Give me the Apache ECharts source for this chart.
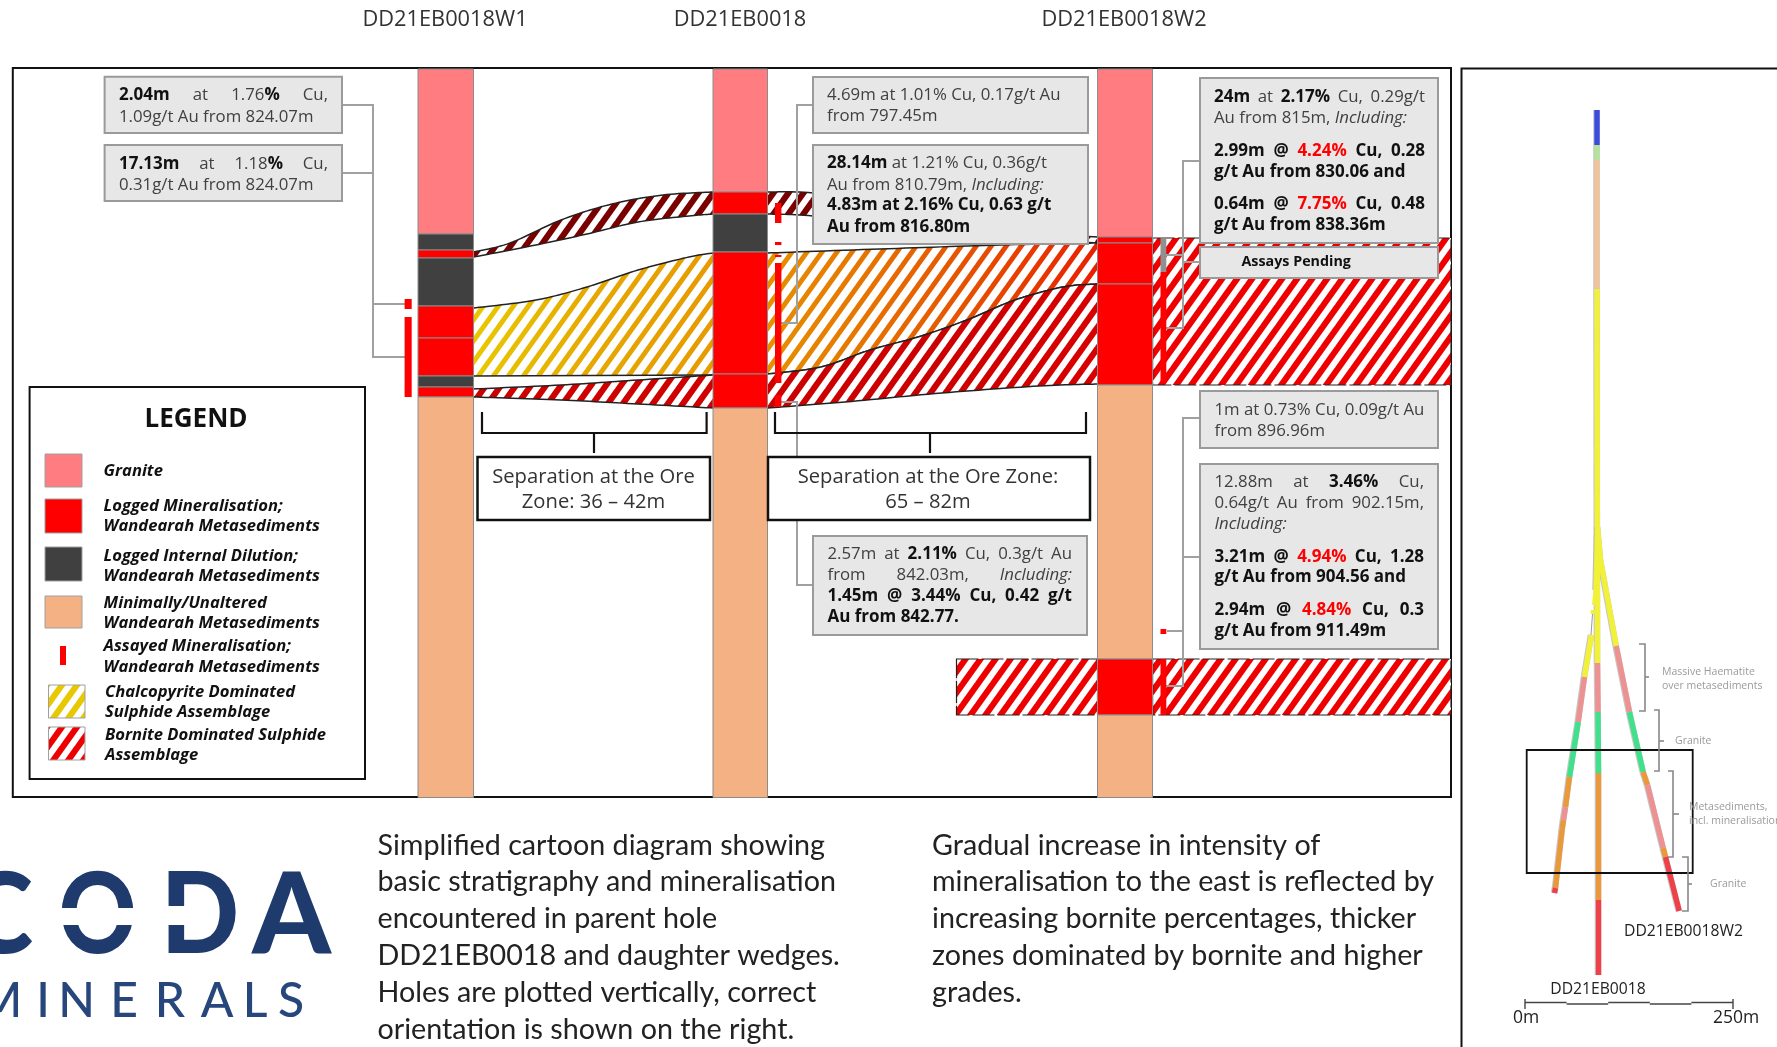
<!DOCTYPE html>
<html><head><meta charset="utf-8">
<style>html,body{margin:0;padding:0;background:#fff}#c{width:1777px;height:1047px}</style>
<script src="https://cdn.jsdelivr.net/npm/echarts@6/dist/echarts.min.js"></script>
</head><body><div id="c"></div>
<script>
// ---------- data ----------
const holeNames = ['DD21EB0018W1', 'DD21EB0018', 'DD21EB0018W2'];
const GR='#ff7c80', MI='#ff0000', DI='#404040', UN='#f4b183';
const holeW1 = [[69,234,GR],[234,250,DI],[250,258,MI],[258,306,DI],[306,338,MI],[338,376,MI],[376,387,DI],[387,397,MI],[397,797.5,UN]];
const hole00 = [[69,192,GR],[192,214,MI],[214,252,DI],[252,374,MI],[374,408,MI],[408,797.5,UN]];
const holeW2 = [[69,237,GR],[237,243,MI],[243,284,MI],[284,385,MI],[385,659,UN],[659,715,MI],[715,797.5,UN]];
const assayW1 = [[299,309],[317,397]];
const assay00 = [[203,223],[242,245],[255,257],[263,383],[395,407]];
const assayW2 = [[272,383],[629,634],[659,715]];
const pendingW2 = [[238,272]];

const bandAUpL=[[473.5,252],[510,243],[561,220],[612,204],[663,195],[713,192]];
const bandALoL=[[473.5,257],[536,245],[587,234],[638,222],[689,216],[713,214]];
const bandAUpR=[[767.5,192],[813,193],[900,205],[1000,230],[1097.5,237]];
const bandALoR=[[767.5,214],[813,216],[900,226],[1000,238],[1097.5,243]];
const bandBUpL=[[473.5,308],[536,300],[587,287],[638,270],[689,257],[713,253]];
const bandBLoL=[[473.5,376],[713,375]];
const bandCUpL=[[473.5,389],[561,385],[638,380],[713,375]];
const bandCLoL=[[473.5,397],[561,400],[638,404],[713,408]];
const bandBUpR=[[767.5,253],[880,249],[1000,245],[1097.5,243]];
const bandMidR=[[767.5,374],[821,367],[870,350],[918,337],[967,320],[1015,300],[1063,287],[1097.5,284]];
const bandCLoR=[[767.5,408],[845,402],[942,393],[1039,386],[1097.5,384]];
const bandEast=[[1152.6,238],[1451,238],[1451,385],[1152.6,385]];
const bandLowW=[[956.5,659],[1097.5,659],[1097.5,715],[956.5,715]];
const bandLowE=[[1152.6,659],[1451,659],[1451,715],[1152.6,715]];

const interceptW1a=['**2.04m** at 1.76**%** Cu,','1.09g/t Au from 824.07m'];
const interceptW1b=['**17.13m** at 1.18**%** Cu,','0.31g/t Au from 824.07m'];
const intercept00a=['4.69m at 1.01% Cu, 0.17g/t Au','from 797.45m'];
const intercept00b=['**28.14m** at 1.21% Cu, 0.36g/t','Au from 810.79m, __Including:__','**4.83m at 2.16% Cu, 0.63 g/t**','**Au from 816.80m**'];
const intercept00c=['2.57m at **2.11%** Cu, 0.3g/t Au','from 842.03m, __Including:__','**1.45m @ 3.44% Cu, 0.42 g/t**','**Au from 842.77.**'];
const interceptW2a=['**24m** at **2.17%** Cu, 0.29g/t','Au from 815m, __Including:__','**2.99m @ ~~4.24%~~ Cu, 0.28**','**g/t Au from 830.06 and**','**0.64m @ ~~7.75%~~ Cu, 0.48**','**g/t Au from 838.36m**'];
const interceptW2b=['**Assays Pending**'];
const interceptW2c=['1m at 0.73% Cu, 0.09g/t Au','from 896.96m'];
const interceptW2d=['12.88m at **3.46%** Cu,','0.64g/t Au from 902.15m,','__Including:__','**3.21m @ ~~4.94%~~ Cu, 1.28**','**g/t Au from 904.56 and**','**2.94m @ ~~4.84%~~ Cu, 0.3**','**g/t Au from 911.49m**'];
const separationA=['Separation at the Ore','Zone: 36 – 42m'];
const separationB=['Separation at the Ore Zone:','65 – 82m'];
const legendLabels=[['Granite'],['Logged Mineralisation;','Wandearah Metasediments'],['Logged Internal Dilution;','Wandearah Metasediments'],['Minimally/Unaltered','Wandearah Metasediments'],['Assayed Mineralisation;','Wandearah Metasediments'],['Chalcopyrite Dominated','Sulphide Assemblage'],['Bornite Dominated Sulphide','Assemblage']];
const captionLeft=['Simplified cartoon diagram showing','basic stratigraphy and mineralisation','encountered in parent hole','DD21EB0018 and daughter wedges.','Holes are plotted vertically, correct','orientation is shown on the right.'];
const captionRight=['Gradual increase in intensity of','mineralisation to the east is reflected by','increasing bornite percentages, thicker','zones dominated by bornite and higher','grades.'];
const sectionLabels=[['Massive Haematite','over metasediments'],['Granite'],['Metasediments,','incl. mineralisation'],['Granite']];

const C_BLUE='#3b4bdc',C_LG='#b5e39c',C_PE='#efc49c',C_YE='#f1f13a',C_PK='#ec9292',C_GN='#40e08c',C_OR='#e9983c',C_RD='#ee4048';
const traceCentre=[[[1596.5,110],[1596.5,145],C_BLUE],[[1596.5,145],[1596.5,160],C_LG],[[1596.5,160],[1596.5,289],C_PE],[[1596.5,289],[1597,663],C_YE],[[1597,663],[1597.5,712],C_PK],[[1597.5,712],[1598,773],C_GN],[[1598,773],[1598,900],C_OR],[[1598,900],[1598,975],C_RD]];
const traceEast=[[[1597,527],[1600,560],C_YE],[[1600,560],[1615.7,646],C_YE],[[1615.7,646],[1629,712],C_PK],[[1629,712],[1642.7,772],C_GN],[[1642.7,772],[1647,785],C_OR],[[1647,785],[1662.7,848],C_PK],[[1662.7,848],[1665,857],C_OR],[[1665,857],[1678.7,911],C_RD]];
const traceWest=[[[1597,535],[1595.5,590],C_YE],[[1591,635],[1584,677],C_YE],[[1584,677],[1577.7,722],C_PK],[[1577.7,722],[1569,777],C_GN],[[1569,777],[1565,807],C_OR],[[1565,807],[1563,820],C_PK],[[1563,820],[1561.7,829],C_OR],[[1561.7,829],[1555,888],C_OR],[[1555,888],[1554,893],C_RD]];
const traceWestGap=[[[1595.5,590],[1594,605]],[[1593,610],[1592.6,614]]];

// ---------- layout helpers ----------
const FONT="'Open Sans'";
const TXT='#404040', DARK='#111';
const measure=document.createElement('canvas').getContext('2d');
function fontOf(sz,b,i,fam){return (i?'italic ':'')+(b?'bold ':'')+sz+'px '+(fam||FONT);}
function parse(s){
  let b=0,i=0,r=0;const words=[[]];
  s.split(/(\*\*|__|~~)/).forEach(p=>{
    if(p==='**'){b=!b;return;} if(p==='__'){i=!i;return;} if(p==='~~'){r=!r;return;}
    if(!p)return;
    const parts=p.split(' ');
    parts.forEach((w,k)=>{ if(k>0)words.push([]); if(w)words[words.length-1].push({t:w,b,i,r}); });
  });
  return words.filter(w=>w.length);
}
function textEl(api,x,y,t,font,fill,align,extra){
  const p=api.coord([x,y]);
  return Object.assign({type:'text',x:p[0],y:p[1],style:{text:t,font,fill:fill,align:align||'left',verticalAlign:'middle'}},extra||{});
}
function lineEls(api,s,x,y,right,sz,bsz){
  const words=parse(s);const out=[];
  const fnt=r=>fontOf(r.b?bsz:sz,r.b,r.i);
  const widths=words.map(w=>w.reduce((a,r)=>{measure.font=fnt(r);return a+measure.measureText(r.t).width;},0));
  measure.font=fontOf(sz);const sp=measure.measureText(' ').width;
  const total=widths.reduce((a,b)=>a+b,0);
  const gap=(right&&words.length>1)?(right-x-total)/(words.length-1):sp;
  let cx=x;
  words.forEach(w=>{
    w.forEach(r=>{
      measure.font=fnt(r);
      out.push(textEl(api,cx,y,r.t,fnt(r),r.r?'#ff0000':(r.b?DARK:TXT)));
      cx+=measure.measureText(r.t).width;
    });
    cx+=gap;
  });
  return out;
}
function spline(pts,n){
  if(pts.length<3)return pts.slice();
  const o=[];const P=i=>pts[Math.max(0,Math.min(pts.length-1,i))];
  for(let i=0;i<pts.length-1;i++){
    const a=P(i-1),b=P(i),c=P(i+1),d=P(i+2);
    for(let k=0;k<n;k++){const t=k/n,t2=t*t,t3=t2*t;
      o.push([0,1].map(j=>0.5*(2*b[j]+(c[j]-a[j])*t+(2*a[j]-5*b[j]+4*c[j]-d[j])*t2+(3*b[j]-a[j]-3*c[j]+d[j])*t3)));}
  }
  o.push(pts[pts.length-1]);return o;
}
function stripeTile(frac){
  const tile=document.createElement('canvas');tile.width=15;tile.height=21;
  const g=tile.getContext('2d');g.fillStyle='#fff';const w=15*frac;
  for(const o of [-15,0,15]){g.beginPath();g.moveTo(o,21);g.lineTo(o+w,21);g.lineTo(o+w+15,0);g.lineTo(o+15,0);g.closePath();g.fill();}
  return {image:tile,repeat:'repeat'};
}
const STRIPES=stripeTile(0.5), STRIPES_THIN=stripeTile(0.6);
const grad=(...c)=>new echarts.graphic.LinearGradient(0,0,1,0,c.map((k,i)=>({offset:i/(c.length-1),color:k})));

function poly(api,pts,style){return {type:'polygon',shape:{points:pts.map(p=>api.coord(p))},style};}
function pline(api,pts,style){return {type:'polyline',shape:{points:pts.map(p=>api.coord(p))},style:Object.assign({fill:null},style)};}
function rect(api,x0,y0,x1,y1,style){const a=api.coord([x0,y0]),b=api.coord([x1,y1]);return {type:'rect',shape:{x:a[0],y:a[1],width:b[0]-a[0],height:b[1]-a[1]},style};}
function layer(name,items,fn){
  return {type:'custom',name,coordinateSystem:'cartesian2d',silent:true,clip:false,animation:false,
    encode:{x:0,y:1},data:items.map((d,i)=>[0,0,i]),
    renderItem:(p,api)=>fn(items[p.dataIndex],api)};
}
const band=(up,lo,color,tile)=>({up,lo,color,tile});
const bands=[
 band(bandAUpL,bandALoL,'#7a0000',STRIPES),
 band(bandAUpR,bandALoR,'#7a0000',STRIPES),
 band(bandBUpL,bandBLoL,grad('#e8c800','#e6a800','#e69a00'),STRIPES_THIN),
 band(bandCUpL,bandCLoL,grad('#cc0000','#d00000'),STRIPES),
 band(bandBUpR,bandMidR,grad('#e69000','#e67000','#e64a00','#e82000'),STRIPES_THIN),
 band(bandMidR,bandCLoR,grad('#cc0000','#cc0000','#d80000'),STRIPES),
];
const flatBands=[bandEast,bandLowW,bandLowE];

const boxes=[
 [104.6,76.7,342,133],[104.6,145,342,201],[813,77,1088,133],[813,145,1088,244],[813,536,1087,635],
 [1200,78,1438,243],[1200,247,1438,278],[1200,391,1438,448],[1200,464,1438,649]];
const boxText=[
 [interceptW1a,119,[95,117],328,[1,0]],
 [interceptW1b,119,[164,185],328,[1,0]],
 [intercept00a,827,[95,116],0,[0,0]],
 [intercept00b,827,[163.5,185,205.5,227],0,[0,0,0,0]],
 [intercept00c,827.5,[554,575,596,617],1072,[1,1,1,0]],
 [interceptW2a,1214,[97.5,118.5,151.5,172.5,204.5,225.5],1425,[1,0,1,0,1,0]],
 [interceptW2c,1214.5,[410.5,431.5],0,[0,0]],
 [interceptW2d,1214.5,[482.5,503.5,524.5,557,577.5,610,631],1424,[1,1,0,1,0,1,0]],
];
const connectors=[
 [[342,105],[373,105],[373,357],[405,357]],
 [[342,173],[373,173],[373,304],[405,304]],
 [[813,105],[797,105],[797,323],[781,323]],
 [[781,402],[797,402],[797,585],[813,585]],
 [[1200,161],[1183,161],[1183,328],[1166,328]],
 [[1200,262],[1183,262]],[[1183,255],[1166,255]],
 [[1200,418],[1183,418],[1183,686],[1166,686]],
 [[1200,557],[1183,557]],[[1183,631],[1167,631]],
];
const brackets=[
 [[482,412],[482,433],[706.6,433],[706.6,412]],[[594,433],[594,453]],
 [[775,412],[775,433],[1086,433],[1086,412]],[[930,433],[930,453]],
];
const miniBrackets=[
 [1639,1645,644,711,1649,677],[1654,1659,710,771,1664,741],[1668,1673,771,857,1679,814],[1682,1688,857,911,1692,884]];
const logoBig=[['C',33,'right',0.92],['O',97.5,'center',0.86],['D',200,'center',0.92],['A',291.5,'center',1]];
const logoSmall=[['M',0],['I',43],['N',76.5],['E',124],['R',170],['A',217],['L',255],['S',291]];
const logoCuts=[[0,908,34,925],[58,908,137,925],[160,906,190,925]];

const swatches=[[45,454,82,487,GR],[45,499,82,533,MI],[45,547,82,581,DI],[45,596,82,628,UN]];

const series=[
 layer('frames',[0,1,2],(k,api)=>{
   if(k===0)return rect(api,12.8,68,1451,797,{fill:'#fff',stroke:'#111',lineWidth:2});
   if(k===1)return pline(api,[[1461.5,1047],[1461.5,68.5],[1777,68.5]],{stroke:'#111',lineWidth:2});
   return rect(api,29.6,387,365,779,{fill:'#fff',stroke:'#111',lineWidth:2});
 }),
 layer('bands',bands,(b,api)=>{
   const u=spline(b.up,14),l=spline(b.lo,14);const all=u.concat(l.slice().reverse());
   return {type:'group',children:[
     poly(api,all,{fill:b.color}),poly(api,all,{fill:b.tile}),
     pline(api,u,{stroke:'#222',lineWidth:1.5}),pline(api,l,{stroke:'#222',lineWidth:1.5})]};
 }),
 layer('flatBands',flatBands,(b,api)=>({type:'group',children:[
   poly(api,b,{fill:'#ee0000'}),poly(api,b,{fill:STRIPES}),
   poly(api,b,{fill:null,stroke:'#222',lineWidth:1.2,lineDash:[22,3]})]})),
 layer('connectors',connectors,(c,api)=>pline(api,c,{stroke:'#a0a0a0',lineWidth:2})),
 layer('holes',[[holeW1,418,473.5],[hole00,713,767.5],[holeW2,1097.5,1152.5]],(h,api)=>({type:'group',children:
   h[0].map(s=>rect(api,h[1],s[0],h[2],s[1],{fill:s[2],stroke:'#8c8c8c',lineWidth:1}))})),
 layer('assays',[[assayW1,404.6,411.7],[assay00,775,781.4],[assayW2,1160.5,1166.3]],(a,api)=>({type:'group',children:
   a[0].map(s=>rect(api,a[1],s[0],a[2],s[1],{fill:'#ff0000'}))})),
 layer('pending',pendingW2,(s,api)=>rect(api,1160.5,s[0],1166.3,s[1],{fill:'#909090'})),
 layer('boxes',boxes,(b,api)=>rect(api,b[0],b[1],b[2],b[3],{fill:'#e7e7e7',stroke:'#9a9a9a',lineWidth:2})),
 layer('boxText',boxText,(b,api)=>({type:'group',children:[].concat(...b[0].map((s,i)=>lineEls(api,s,b[1],b[2][i],b[4][i]?b[3]:0,16.8,17)))})),
 layer('pendingText',[interceptW2b[0]],(s,api)=>({type:'group',children:lineEls(api,s,1241.5,262,0,14.3,14.3)})),
 layer('brackets',brackets,(b,api)=>pline(api,b,{stroke:'#111',lineWidth:2.2})),
 layer('sepBoxes',[[477.5,457,710,520],[768,457,1090,520]],(b,api)=>rect(api,b[0],b[1],b[2],b[3],{fill:'#fff',stroke:'#111',lineWidth:2.5})),
 layer('sepText',[[separationA,593.5],[separationB,928]],(b,api)=>({type:'group',children:b[0].map((t,i)=>textEl(api,b[1],[477,502.5][i],t,fontOf(20.2),'#333','center'))})),
 layer('holeNames',holeNames,(t,api)=>{const i=holeNames.indexOf(t);return textEl(api,[445,740,1124][i],19.5,t,fontOf(21.8),'#333','center');}),
 layer('legendTitle',['LEGEND'],(t,api)=>textEl(api,196,420,t,fontOf(26,1),'#111','center')),
 layer('swatches',swatches,(s,api)=>rect(api,s[0],s[1],s[2],s[3],{fill:s[4],stroke:'#a0a0a0',lineWidth:1})),
 layer('legendAssay',[[60,646,66,665]],(s,api)=>rect(api,s[0],s[1],s[2],s[3],{fill:'#ff0000'})),
 layer('legendHatch',[[48.5,685,85,718,'#e8c800'],[48.5,727,85,760,'#ee0000']],(s,api)=>({type:'group',children:[
   rect(api,s[0],s[1],s[2],s[3],{fill:s[4]}),rect(api,s[0],s[1],s[2],s[3],{fill:STRIPES,stroke:'#a0a0a0',lineWidth:1})]})),
 layer('legendText',legendLabels,(l,api)=>{
   const i=legendLabels.indexOf(l);
   const ys=[[471],[506,526],[556,576],[603,623],[646,667],[692,712],[735,755]][i];
   const x=i>=5?105:103.6;
   return {type:'group',children:l.map((t,k)=>textEl(api,x,ys[k],t,fontOf(16.6,1,1),'#111'))};
 }),
 layer('captions',[[captionLeft,377.5],[captionRight,932]],(c,api)=>({type:'group',children:c[0].map((t,i)=>textEl(api,c[1],[846,882,919,956,993,1030][i],t,fontOf(28.7,0,0,'Lato'),'#222'))})),
 layer('logoBig',logoBig,(l,api)=>textEl(api,l[1],917,l[0],"900 112px Lato",'#1f3a6d',l[2],{scaleX:l[3]})),
 layer('logoCuts',logoCuts,(c,api)=>rect(api,c[0],c[1],c[2],c[3],{fill:'#fff'})),
 layer('logoSmall',logoSmall,(l,api)=>textEl(api,l[1],1002,l[0],"500 48px Lato",'#27467c','center')),
 // right panel
 layer('traceEdge',[traceCentre,traceEast,traceWest],(t,api)=>({type:'group',children:t.map(s=>pline(api,[s[0],s[1]],{stroke:'#999',lineWidth:6.6,opacity:.55}))})),
 layer('traces',[traceCentre,traceEast,traceWest],(t,api)=>({type:'group',children:t.map(s=>pline(api,[[s[0][0]+.5,s[0][1]],[s[1][0]+.5,s[1][1]]],{stroke:s[2],lineWidth:5.4}))})),
 layer('traceGap',traceWestGap,(s,api)=>pline(api,s,{stroke:C_YE,lineWidth:4})),
 layer('traceThin',[[[1592.5,614],[1591,635]]],(s,api)=>pline(api,s,{stroke:'#999',lineWidth:1})),
 layer('window',[[1526.7,750,1692.7,873]],(b,api)=>rect(api,b[0],b[1],b[2],b[3],{fill:null,stroke:'#111',lineWidth:1.8})),
 layer('miniBrackets',miniBrackets,(b,api)=>({type:'group',children:[
   pline(api,[[b[0],b[2]],[b[1],b[2]],[b[1],b[3]],[b[0],b[3]]],{stroke:'#888',lineWidth:1.6}),
   pline(api,[[b[1],b[5]],[b[4],b[5]]],{stroke:'#888',lineWidth:1.6})]})),
 layer('sectionLabels',sectionLabels,(l,api)=>{
   const i=sectionLabels.indexOf(l);
   const pos=[[1662,[672,686]],[1675,[741]],[1689,[807,821]],[1710,[884]]][i];
   return {type:'group',children:l.map((t,k)=>textEl(api,pos[0],pos[1][k],t,fontOf(10.5),'#9b9b9b'))};
 }),
 layer('panelNames',[['DD21EB0018W2',1683.5,931.5],['DD21EB0018',1598,990]],(n,api)=>textEl(api,n[1],n[2],n[0],fontOf(15.7),'#222','center')),
 layer('scaleBar',[0,1,2,3,4],(k,api)=>{const y=k%2?1004:1002.5,s=41.6;return pline(api,[[1525+k*s,y],[1525+(k+1)*s,y]],{stroke:'#444',lineWidth:1.6});}),
 layer('scaleTicks',[1525,1733],(x,api)=>pline(api,[[x,999],[x,1009]],{stroke:'#444',lineWidth:1.4})),
 layer('scaleText',[['0m',1526],['250m',1736]],(s,api)=>textEl(api,s[1],1018,s[0],fontOf(17.5),'#222','center')),
];

const chart=echarts.init(document.getElementById('c'),null,{renderer:'canvas',width:1777,height:1047});
chart.setOption({
  animation:false,backgroundColor:'#fff',
  grid:{left:0,right:0,top:0,bottom:0},
  xAxis:{type:'value',min:0,max:1777,show:false},
  yAxis:{type:'value',min:0,max:1047,inverse:true,show:false},
  series
});
</script></body></html>
